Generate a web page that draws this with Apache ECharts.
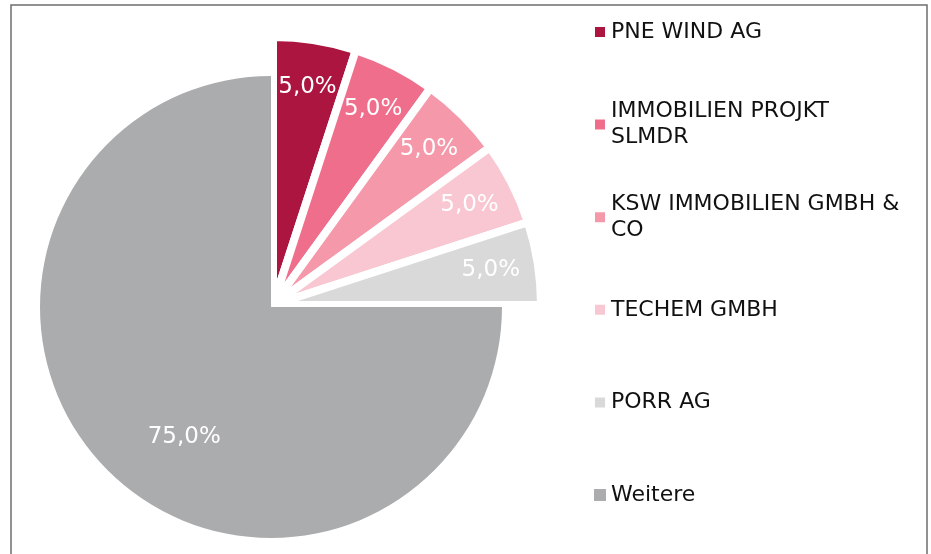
<!DOCTYPE html>
<html>
<head>
<meta charset="utf-8">
<script src="https://cdn.jsdelivr.net/npm/echarts@6/dist/echarts.min.js"></script>
<style>
html, body { margin: 0; padding: 0; background: #fff; }
#aktionaere { width: 931px; height: 554px; }
</style>
</head>
<body>
<div id="aktionaere"></div>
<script>
// Aktionärsstruktur (Anteile in %)
var names = ["PNE WIND AG", "IMMOBILIEN PROJKT\nSLMDR", "KSW IMMOBILIEN GMBH &\nCO", "TECHEM GMBH", "PORR AG", "Weitere"];
var shares = [5.0, 5.0, 5.0, 5.0, 5.0, 75.0];
var colors = ["#ab1540", "#ef6e8b", "#f498aa", "#f8c7d2", "#d9d9d9", "#abacae"];

var FONT = "DejaVu Sans";

var aktionaere = {
	// Zahl im deutschen Format
	fmt : function(v) {
		return v.toFixed(1).replace(".", ",") + "%";
	},
	// Summe der herausgezogenen Segmente
	smallSum : function() {
		var s = 0;
		for (var i = 0; i < 5; i++) {
			s += shares[i];
		}
		return s;
	},
	// Legende: erste Zeile immer auf Höhe des Symbols
	legendData : function() {
		var list = [];
		for (var i = 0; i < names.length; i++) {
			var lines = names[i].split("\n").length;
			list.push({
				name : names[i],
				textStyle : { padding : lines > 1 ? [26, 0, 0, 0] : [26, 0, 26, 0] }
			});
		}
		return list;
	},
	// großes Segment "Weitere"
	bigData : function() {
		return [
			{ name : "", value : aktionaere.smallSum(), itemStyle : { color : "transparent" }, label : { show : false } },
			{ name : names[5], value : shares[5], itemStyle : { color : colors[5] } }
		];
	},
	// herausgezogene Segmente
	smallData : function(withColor) {
		var list = [];
		for (var i = 0; i < 5; i++) {
			list.push({ name : names[i], value : shares[i], itemStyle : { color : withColor ? colors[i] : "transparent" } });
		}
		list.push({ name : "", value : shares[5], itemStyle : { color : "transparent", borderWidth : 0 }, label : { show : false } });
		return list;
	},

	init : function() {
		var myChart = echarts.init(document.getElementById("aktionaere"));
		var option = {
			animation : false,
			tooltip : { show : false },
			graphic : [{
				type : "rect",
				silent : true,
				shape : { x : 11, y : 5, width : 916, height : 620 },
				style : { fill : "none", stroke : "#6d6d6d", lineWidth : 1.5 }
			}],
			legend : {
				orient : "vertical",
				left : 593,
				top : -7,
				padding : 0,
				itemGap : 14.6,
				itemWidth : 12,
				itemHeight : 12,
				icon : "rect",
				selectedMode : false,
				textStyle : { fontFamily : FONT, fontSize : 22, lineHeight : 26, color : "#111" },
				data : aktionaere.legendData()
			},
			series : [{
				name : "Rest",
				type : "pie",
				z : 3,
				center : [271, 307],
				radius : 231,
				startAngle : 90,
				clockwise : true,
				emphasis : { disabled : true },
				label : {
					position : "inside",
					color : "#fff",
					fontFamily : FONT,
					fontSize : 23,
					formatter : function(p) { return aktionaere.fmt(p.value); }
				},
				labelLayout : { dx : -3, dy : 46 },
				labelLine : { show : false },
				data : aktionaere.bigData()
			}, {
				name : "Top 5",
				type : "pie",
				z : 2,
				center : [273, 305],
				radius : 268,
				startAngle : 90,
				clockwise : true,
				emphasis : { disabled : true },
				itemStyle : { borderColor : "#fff", borderWidth : 8, borderJoin : "round" },
				label : { show : false },
				labelLine : { show : false },
				data : aktionaere.smallData(true)
			}, {
				// nur für die Beschriftung der Segmente
				name : "Beschriftung",
				type : "pie",
				z : 4,
				silent : true,
				center : [273, 305],
				radius : [170, 265],
				startAngle : 90,
				clockwise : true,
				emphasis : { disabled : true },
				label : {
					position : "inside",
					color : "#fff",
					fontFamily : FONT,
					fontSize : 23,
					formatter : function(p) { return aktionaere.fmt(p.value); }
				},
				labelLine : { show : false },
				data : aktionaere.smallData(false)
			}]
		};
		myChart.setOption(option);
	}
};

aktionaere.init();
</script>
</body>
</html>
